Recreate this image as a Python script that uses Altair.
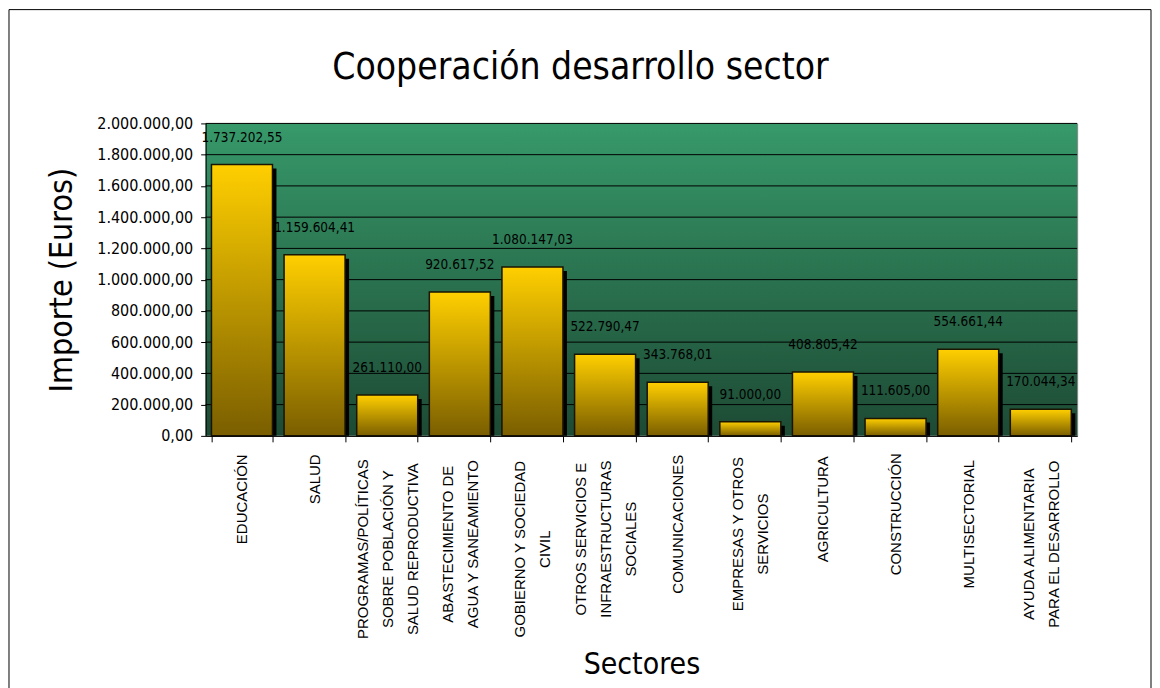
import altair as alt
import pandas as pd

# ---- data ----
sectores = [
    "EDUCACIÓN",
    "SALUD",
    "PROGRAMAS/POLÍTICAS\nSOBRE POBLACIÓN Y\nSALUD REPRODUCTIVA",
    "ABASTECIMIENTO DE\nAGUA Y SANEAMIENTO",
    "GOBIERNO Y SOCIEDAD\nCIVIL",
    "OTROS SERVICIOS E\nINFRAESTRUCTURAS\nSOCIALES",
    "COMUNICACIONES",
    "EMPRESAS Y OTROS\nSERVICIOS",
    "AGRICULTURA",
    "CONSTRUCCIÓN",
    "MULTISECTORIAL",
    "AYUDA ALIMENTARIA\nPARA EL DESARROLLO",
]
importes = [1737202.55, 1159604.41, 261110.00, 920617.52, 1080147.03, 522790.47,
            343768.01, 91000.00, 408805.42, 111605.00, 554661.44, 170044.34]
y_ticks = [0, 200000, 400000, 600000, 800000, 1000000, 1200000, 1400000,
           1600000, 1800000, 2000000]

W, H = 873, 313
LH = 25
NARROW = "Liberation Sans Narrow, Arial Narrow, DejaVu Sans Condensed, sans-serif"
WIDE = "Liberation Sans, Arial, sans-serif"

df = pd.DataFrame({"sector": sectores, "importe": importes})
grid_df = pd.DataFrame({"v": y_ticks[1:]})
one = pd.DataFrame({"k": [0]})

yscale = alt.Scale(domain=[0, 2000000], nice=False)
xscale = alt.Scale(paddingInner=0.16, paddingOuter=0.08)

green = alt.Gradient(
    gradient="linear", x1=0, x2=0, y1=0, y2=1,
    stops=[alt.GradientStop(color="#37996a", offset=0),
           alt.GradientStop(color="#1d4a34", offset=1)],
)
gold = alt.Gradient(
    gradient="linear", x1=0, x2=0, y1=0, y2=1,
    stops=[alt.GradientStop(color="#ffcf00", offset=0),
           alt.GradientStop(color="#7a5e00", offset=1)],
)

yaxis = alt.Axis(
    title="Importe (Euros)", values=y_ticks, format=",.2f", grid=False, zindex=1,
    labelFont=NARROW, labelFontSize=16, labelColor="black", labelPadding=8,
    tickSize=5, tickColor="black", domainColor="black",
    titleFont=NARROW, titleFontSize=32, titleFontWeight="normal",
    titleColor="black", titlePadding=18,
)

lines = "split(datum.label, '\\n')"
nlines = "length(" + lines + ")"
maxlen = ("max(length(" + lines + "[0]), length(" + lines + "[1] || ''), "
          "length(" + lines + "[2] || ''))")
xenc = alt.X(
    "sector:N", sort=sectores, scale=xscale,
    axis=alt.Axis(
        title="Sectores", labelAngle=270, labelExpr=lines,
        labelLimit=400, labelFont=WIDE, labelFontSize=15, labelLineHeight=LH,
        labelAlign="center",
        labelOffset={"condition": [
            {"test": nlines + " == 3", "value": -LH},
            {"test": nlines + " == 2", "value": -LH / 2},
        ], "value": 0},
        labelPadding={"expr": "12 + 5 * " + maxlen},
        tickBand="extent", tickSize=6, tickColor="black",
        domainColor="black", labelColor="black", zindex=1,
        titleFont=NARROW, titleFontSize=30, titleFontWeight="normal",
        titleColor="black", titlePadding=14,
    ),
)

border = alt.Chart(one).mark_rect(filled=False, stroke="black", strokeWidth=1).encode(
    x=alt.value(-197), x2=alt.value(947), y=alt.value(-114), y2=alt.value(585)
)

background = alt.Chart(one).mark_rect(fill=green).encode(
    x=alt.value(0), x2=alt.value(W), y=alt.value(0), y2=alt.value(H)
)

grid = alt.Chart(grid_df).mark_rule(color="black", strokeWidth=1).encode(
    y=alt.Y("v:Q", scale=yscale, axis=yaxis),
    x=alt.value(0), x2=alt.value(W),
)

shadow = alt.Chart(df).mark_bar(color="black", xOffset=4, yOffset=4, y2Offset=0).encode(
    x=xenc,
    y=alt.Y("importe:Q", scale=yscale, axis=yaxis),
    y2=alt.datum(0),
)

bars = alt.Chart(df).mark_bar(fill=gold, stroke="#1a1400", strokeWidth=1.5).encode(
    x=xenc,
    y=alt.Y("importe:Q", scale=yscale, axis=yaxis),
)

labels = alt.Chart(df).mark_text(
    dy=-27, baseline="middle", font=NARROW, fontSize=13.5, color="black"
).encode(
    x=xenc,
    y=alt.Y("importe:Q", scale=yscale, axis=yaxis),
    text=alt.Text("importe:Q", format=",.2f"),
)

chart = (
    alt.layer(border, background, grid, shadow, bars, labels)
    .properties(
        width=W, height=H, padding=0,
        title=alt.TitleParams(
            text="Cooperación desarrollo sector", font=NARROW, fontSize=37,
            fontWeight="normal", color="black", anchor="middle", frame="group",
            dx=-61, dy=82,
        ),
    )
    .configure(locale={"number": {"decimal": ",", "thousands": ".",
                                  "grouping": [3], "currency": ["", " €"]}})
    .configure_view(stroke="#808080", strokeWidth=1)
)

chart.save("out.html", embed_options={"renderer": "svg", "actions": False})
